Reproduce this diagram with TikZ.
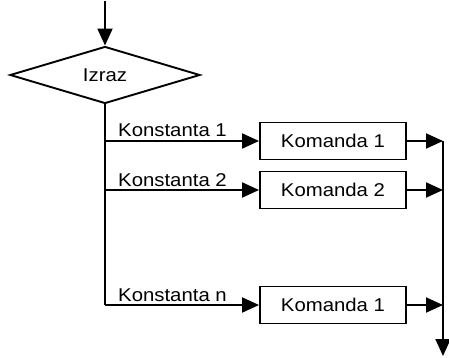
\documentclass[tikz,border=0pt]{standalone}
\usepackage{fontspec}
\setmainfont[FakeStretch=1.1]{Liberation Sans}
\usetikzlibrary{shapes.geometric,arrows.meta}
\begin{document}
\begin{tikzpicture}[x=1pt,y=-1pt,
  line/.style={line width=1.9pt},
  arr/.style={line, -{Triangle[length=17pt,width=15pt]}},
  cmd/.style={draw, line width=1.9pt, minimum width=146pt, minimum height=37pt, inner sep=0pt, font=\fontsize{18.5}{20}\selectfont},
  lbl/.style={anchor=base west, inner sep=0pt, font=\fontsize{18.5}{20}\selectfont}]
\useasboundingbox (0,0) rectangle (449,358);
\node[draw, line width=1.9pt, diamond, aspect=3.33, minimum width=190pt, minimum height=57pt, inner sep=0pt, font=\fontsize{18.5}{20}\selectfont] (izraz) at (105,75) {Izraz};
\coordinate (start) at (105,1);
\draw[arr] (start) -- (izraz.north);
\node[cmd] (k1) at (333,141) {Komanda 1};
\node[cmd] (k2) at (333,190) {Komanda 2};
\node[cmd] (kn) at (333,305) {Komanda 1};
\coordinate (b1) at (105,141);
\coordinate (b2) at (105,190);
\coordinate (bn) at (105,305);
\coordinate (r1) at (443,141);
\coordinate (r2) at (443,190);
\coordinate (rn) at (443,305);
\coordinate (end) at (443,356);
\draw[line] (izraz.south) -- (bn);
\draw[arr] (b1) -- (k1.west);
\draw[arr] (b2) -- (k2.west);
\draw[arr] (bn) -- (kn.west);
\draw[arr] (k1.east) -- (r1);
\draw[arr] (k2.east) -- (r2);
\draw[arr] (kn.east) -- (rn);
\draw[arr] (r1) -- (end);
\node[lbl] (l1) at (118,137) {Konstanta 1};
\node[lbl] (l2) at (118,186) {Konstanta 2};
\node[lbl] (ln) at (118,301) {Konstanta n};
\end{tikzpicture}
\end{document}
